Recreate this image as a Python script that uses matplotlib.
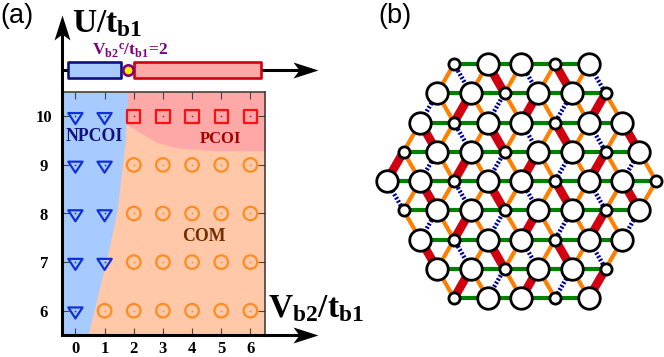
import matplotlib
matplotlib.use('Agg')
import matplotlib.pyplot as plt
from matplotlib.path import Path

plt.rcParams['mathtext.fontset'] = 'custom'
plt.rcParams['mathtext.bf'] = 'Liberation Serif:bold'
plt.rcParams['mathtext.rm'] = 'Liberation Serif:bold'
plt.rcParams['font.family'] = 'Liberation Serif'

# phase diagram points
npcoi_x = [0, 1, 0, 1, 0, 1, 0, 1, 0]
npcoi_y = [10, 10, 9, 9, 8, 8, 7, 7, 6]
pcoi_x = [2, 3, 4, 5, 6]
pcoi_y = [10, 10, 10, 10, 10]
com_x = [2, 3, 4, 5, 6, 2, 3, 4, 5, 6, 2, 3, 4, 5, 6, 1, 2, 3, 4, 5, 6]
com_y = [9, 9, 9, 9, 9, 8, 8, 8, 8, 8, 7, 7, 7, 7, 7, 6, 6, 6, 6, 6, 6]

# phase boundaries
blue_edge_x = [0.43, 0.73, 1.12, 1.43, 1.55, 1.70, 1.80]
blue_edge_y = [5.5, 6.23, 7.19, 8.08, 8.7, 9.46, 10.5]
pink_edge_x = [1.76, 1.9, 2.22, 2.8, 3.49, 4.86, 6.5]
pink_edge_y = [9.83, 9.78, 9.66, 9.46, 9.35, 9.29, 9.29]

# 1D bar on top of the diagram
bar_blue = [-0.26, 1.57]
bar_red = [2.02, 6.37]
bar_point = 1.79

# lattice: first half-column of each row, site sizes, diagonal bonds
row_start = [4, 3, 2, 1, 0, 1, 2, 3, 4]
row_sites = ['sBBsB', 'BBsBBs', 'BsBBsBB', 'sBBsBBsB', 'BBsBBsBBs',
             'sBBsBBsB', 'BsBBsBB', 'BBsBBs', 'sBBsB']
# o = orange, r = red, n = navy dashed, - = no bond
bonds_dl = ['ooooo', 'nrnrnr', 'ooooooo', 'rnrnrnrn',
            '-oooooooo', '-nrnrnrn', '-oooooo', '-rnrnr']
bonds_dr = ['nrnrn', 'oooooo', 'rnrnrnr', 'oooooooo',
            'nrnrnrnr-', 'ooooooo-', 'rnrnrn-', 'ooooo-']

fig = plt.figure(figsize=(6.64, 3.57), dpi=100)

# ---- panel (a) ----
ax = fig.add_axes([62 / 664, 1 - 335 / 357, 203 / 664, 243 / 357])
ax.set_xlim(-0.46, 6.5)
ax.set_ylim(5.5, 10.5)

ax.fill_between([-0.46, 6.5], 5.5, 10.5, color='#FFC8A8', lw=0, zorder=0)
ax.fill_betweenx(blue_edge_y, -0.46, blue_edge_x, color='#A8CBFF', lw=0, zorder=1)
ax.fill_between(pink_edge_x, pink_edge_y, 10.5, color='#FFA8A8', lw=0, zorder=0.5)

# flat triangle with the dot near its top edge
flat_tri = Path([(-5.5, 2.5), (5.5, 2.5), (0, -6), (-5.5, 2.5)], closed=True)
ax.scatter(npcoi_x, npcoi_y, marker=flat_tri, s=125, facecolors='none', edgecolors='#1030D8', linewidths=1.6, zorder=3)
ax.scatter(pcoi_x, pcoi_y, marker='s', s=90, facecolors='none', edgecolors='#FF1010', linewidths=1.6, zorder=3)
ax.scatter(com_x, com_y, marker='o', s=95, facecolors='none', edgecolors='#FF8C20', linewidths=1.6, zorder=3)
ax.scatter(npcoi_x, npcoi_y, marker='o', s=1.5, color='#1030D8', lw=0, zorder=3)
ax.scatter(pcoi_x, pcoi_y, marker='o', s=1.5, color='#E01010', lw=0, zorder=3)
ax.scatter(com_x, com_y, marker='o', s=1.5, color='#FF8C20', lw=0, zorder=3)

ax.text(0.64, 9.58, 'NPCOI', color='#101080', fontsize=12.8, fontweight='bold', ha='center', va='center', zorder=4)
ax.text(4.99, 9.54, 'PCOI', color='#A00000', fontsize=12, fontweight='bold', ha='center', va='center', zorder=4)
ax.text(4.42, 7.52, 'COM', color='#703000', fontsize=12.8, fontweight='bold', ha='center', va='center', zorder=4)

ax.set_xticks(range(7))
ax.set_yticks([6, 7, 8, 9, 10])
ax.tick_params(axis='both', which='both', direction='in', length=5, width=0.8, color='#444444',
               top=True, right=True, labelsize=12)
ax.tick_params(axis='x', pad=4.5)
ax.tick_params(axis='y', pad=13)
for lab in ax.get_xticklabels() + ax.get_yticklabels():
    lab.set_fontweight('bold')
for lab in ax.get_yticklabels():
    lab.set_ha('center')
ax.spines['left'].set_linewidth(2.2)
ax.spines['bottom'].set_linewidth(2.2)
ax.spines['top'].set_linewidth(1.1)
ax.spines['right'].set_linewidth(1.1)
ax.spines['top'].set_color('#333333')
ax.spines['right'].set_color('#333333')

# axis arrows, drawn past the frame
bar_y = 10.95
tip_x = 8.33
tip_y = 12.09
head_right = Path([(0, 0), (-25, 8), (-19, 0), (-25, -8), (0, 0)], closed=True)
head_up = Path([(0, 0), (8, -25), (0, -19), (-8, -25), (0, 0)], closed=True)
ax.plot([-0.46, -0.46], [10.5, tip_y - 0.3], color='black', lw=2.2, clip_on=False, zorder=5)
ax.plot([6.5, tip_x - 0.5], [5.5, 5.5], color='black', lw=2.2, clip_on=False, zorder=5)
ax.plot([-0.46, tip_x - 0.5], [bar_y, bar_y], color='black', lw=2.2, clip_on=False, zorder=5)
ax.plot([-0.46], [tip_y], marker=head_up, ms=36, color='black', mew=0, clip_on=False, zorder=5)
ax.plot([tip_x], [5.5], marker=head_right, ms=36, color='black', mew=0, clip_on=False, zorder=5)
ax.plot([tip_x], [bar_y], marker=head_right, ms=36, color='black', mew=0, clip_on=False, zorder=5)

ax.fill_between(bar_blue, bar_y - 0.16, bar_y + 0.16, facecolor='#A8CBFF', edgecolor='#101080', lw=1.9,
                clip_on=False, zorder=6)
ax.fill_between(bar_red, bar_y - 0.16, bar_y + 0.16, facecolor='#FFA8A8', edgecolor='#D00010', lw=1.9,
                clip_on=False, zorder=6)
ax.scatter([bar_point], [bar_y], s=56, facecolor='#FFEE00', edgecolor='#800080', linewidths=1.9,
           clip_on=False, zorder=7)

fig.text(72 / 664, 1 - 32 / 357, r'$\mathbf{U/t_{b1}}$', fontsize=24, color='black')
fig.text(268 / 664, 1 - 317 / 357, r'$\mathbf{V_{b2}/t_{b1}}$', fontsize=24, color='black')
fig.text(92 / 664, 1 - 55 / 357, r'$\mathbf{V_{b2}{}^{c}/t_{b1}}\!=\!\mathbf{2}$', fontsize=12.5, color='#800080')
fig.text(0, 1 - 23 / 357, '(a)', fontsize=19.5, family='Liberation Sans')
fig.text(378 / 664, 1 - 23 / 357, '(b)', fontsize=19.5, family='Liberation Sans')

# ---- panel (b) ----
ax2 = fig.add_axes([370 / 664, 1 - 320 / 357, 294 / 664, 280 / 357])
ax2.set_xlim(-0.99, 16.47)
ax2.set_ylim(9.75, 0.18)
ax2.axis('off')


def draw_bond(x0, y0, x1, y1, kind):
    if kind == 'o':
        ax2.plot([x0, x1], [y0, y1], color='#FF7F00', lw=3.0, solid_capstyle='butt', zorder=1)
    elif kind == 'r':
        ax2.plot([x0, x1], [y0, y1], color='#D00010', lw=6.2, solid_capstyle='butt', zorder=1)
    elif kind == 'n':
        ax2.plot([x0, x1], [y0, y1], color='#000090', lw=3.2, linestyle=(0, (0.45, 0.4)),
                 dash_capstyle='butt', zorder=1)


for r, sites in enumerate(row_sites):
    xs = [row_start[r] + 2 * k for k in range(len(sites))]
    ax2.plot([xs[0], xs[-1]], [r + 1, r + 1], color='#008000', lw=3.0, zorder=1)
    big_x = [x for x, s in zip(xs, sites) if s == 'B']
    small_x = [x for x, s in zip(xs, sites) if s == 's']
    ax2.scatter(big_x, [r + 1] * len(big_x), s=240, facecolor='white', edgecolor='black', linewidths=2.0, zorder=3)
    ax2.scatter(small_x, [r + 1] * len(small_x), s=65, facecolor='white', edgecolor='black', linewidths=2.0, zorder=3)
    if r < len(row_sites) - 1:
        for k in range(len(sites)):
            draw_bond(xs[k], r + 1, xs[k] - 1, r + 2, bonds_dl[r][k])
            draw_bond(xs[k], r + 1, xs[k] + 1, r + 2, bonds_dr[r][k])

fig.savefig('out.png', dpi=100)
